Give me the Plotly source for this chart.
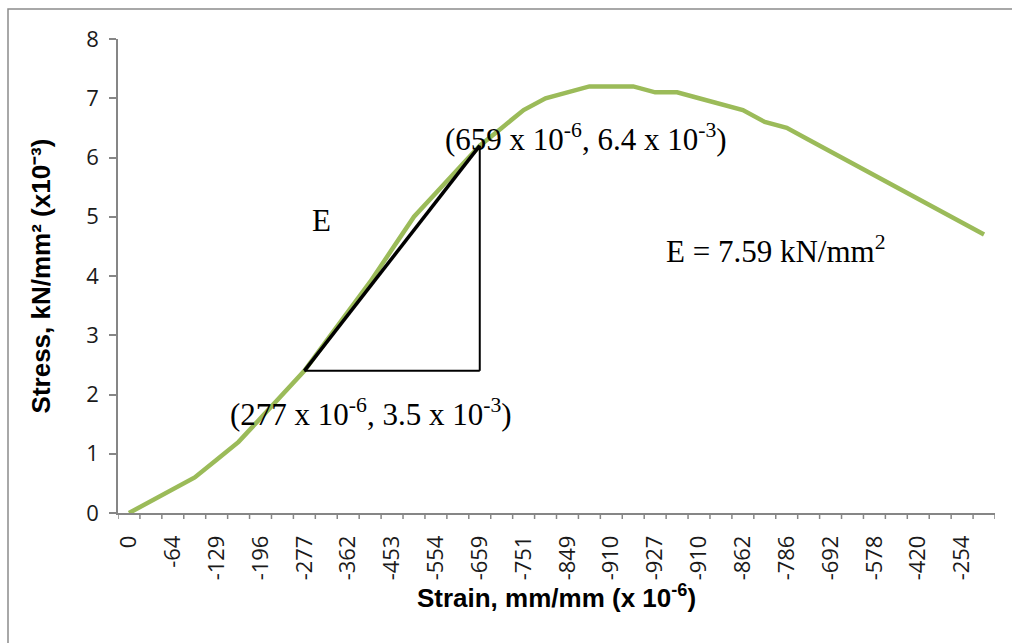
import plotly.graph_objects as go

# Strain readings (x 10^-6) labelled on every second category
strain_labels = ["0", "-64", "-129", "-196", "-277", "-362", "-453", "-554", "-659", "-751",
                 "-849", "-910", "-927", "-910", "-862", "-786", "-692", "-578", "-420", "-254"]

# Stress (x 10^-3 kN/mm^2) for each of the 40 recorded steps
stress = [0.0, 0.2, 0.4, 0.6, 0.9, 1.2, 1.6, 2.0, 2.4, 2.9,
          3.4, 3.9, 4.45, 5.0, 5.4, 5.8, 6.2, 6.5, 6.8, 7.0,
          7.1, 7.2, 7.2, 7.2, 7.1, 7.1, 7.0, 6.9, 6.8, 6.6,
          6.5, 6.3, 6.1, 5.9, 5.7, 5.5, 5.3, 5.1, 4.9, 4.7]

steps = list(range(1, len(stress) + 1))
label_steps = steps[::2]

# secant used for the modulus: between the -277 and -659 readings
i_lo = label_steps[strain_labels.index("-277")] - 1
i_hi = label_steps[strain_labels.index("-659")] - 1
x_lo, y_lo = steps[i_lo], stress[i_lo]
x_hi, y_hi = steps[i_hi], stress[i_hi]

fig = go.Figure()
fig.add_trace(go.Scatter(
    x=steps, y=stress, mode="lines",
    line=dict(color="#9BBB59", width=4.5),
    showlegend=False, hoverinfo="skip"))

# right-angle triangle showing the slope E
fig.add_shape(type="line", x0=x_lo, y0=y_lo, x1=x_hi, y1=y_lo,
              line=dict(color="black", width=2))
fig.add_shape(type="line", x0=x_hi, y0=y_lo, x1=x_hi, y1=y_hi,
              line=dict(color="black", width=2))
fig.add_shape(type="line", x0=x_lo, y0=y_lo, x1=x_hi, y1=y_hi,
              line=dict(color="black", width=3.5))

# tick marks between categories along the strain axis
for b in [s - 0.5 for s in steps] + [steps[-1] + 0.5]:
    fig.add_shape(type="line", xref="x", yref="paper",
                  x0=b, x1=b, y0=0, y1=-6 / 474,
                  line=dict(color="#868686", width=1.5))

# chart frame
fig.add_shape(type="rect", xref="paper", yref="paper",
              x0=-110 / 877, y0=-140 / 474, x1=1.1, y1=1 + 30 / 474,
              line=dict(color="#8C8C8C", width=1.5), layer="below")

serif = dict(family="Liberation Serif", size=31, color="black")
fig.add_annotation(x=21.84, y=6.33, text="(659 x 10<sup>-6</sup>, 6.4 x 10<sup>-3</sup>)",
                   showarrow=False, font=serif)
fig.add_annotation(x=12.04, y=1.70, text="(277 x 10<sup>-6</sup>, 3.5 x 10<sup>-3</sup>)",
                   showarrow=False, font=serif)
fig.add_annotation(x=9.8, y=4.93, text="E", showarrow=False, font=serif)
fig.add_annotation(x=30.5, y=4.44, text="E = 7.59 kN/mm<sup>2</sup>",
                   showarrow=False, font=serif)

tick_font = dict(family="Open Sans", size=22, color="#1a1a1a")
title_font = dict(family="Liberation Sans", size=26, color="black")

fig.update_layout(
    width=1012, height=643,
    margin=dict(l=118, r=17, t=39, b=130),
    paper_bgcolor="white", plot_bgcolor="white",
    font=dict(family="Open Sans", size=22, color="#1a1a1a"),
)
fig.update_xaxes(
    range=[0.5, len(stress) + 0.5],
    tickmode="array", tickvals=label_steps, ticktext=strain_labels,
    tickangle=-90, tickfont=tick_font,
    # invisible label ticks keep the labels clear of the boundary ticks
    ticks="outside", ticklen=12, tickcolor="rgba(0,0,0,0)",
    showgrid=False, zeroline=False,
    showline=True, linecolor="#868686", linewidth=1.5,
    title=dict(text="<b>Strain, mm/mm (x 10<sup>-6</sup>)</b>", font=title_font, standoff=6),
    automargin=False,
)
fig.update_yaxes(
    range=[0, 8], tickmode="linear", tick0=0, dtick=1,
    ticks="outside", ticklen=7, tickcolor="#868686", tickwidth=1.5,
    tickfont=tick_font, ticklabelstandoff=6,
    showgrid=False, zeroline=False,
    showline=True, linecolor="#868686", linewidth=1.5,
    title=dict(text="<b>Stress, kN/mm² (x10⁻³)</b>", font=title_font, standoff=28),
    automargin=False,
)

fig.write_html("out.html")
